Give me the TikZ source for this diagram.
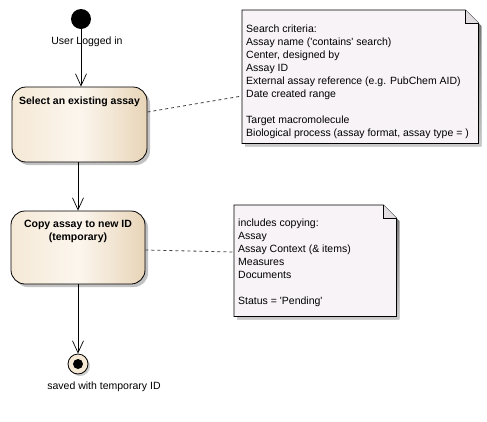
\documentclass[tikz,border=0pt]{standalone}
\usepackage{fontspec}
\setmainfont{Liberation Sans}
\usetikzlibrary{arrows.meta,shadows}
\definecolor{actL}{HTML}{F5E9D6}
\definecolor{actM}{HTML}{FCF6EE}
\definecolor{actR}{HTML}{E8D5B8}
\definecolor{notefill}{HTML}{F8F3F7}
\definecolor{foldfill}{HTML}{E2DDE0}
\definecolor{shade}{HTML}{A8A8A8}
\newcommand{\sq}{\textquotesingle}
\begin{document}
\begin{tikzpicture}[x=1pt,y=-1pt,
  txt/.style={font=\fontsize{10.5}{13}\selectfont, inner sep=0pt},
  activity/.style={draw, line width=0.8pt, rounded corners=14pt,
    left color=actL, right color=actR, middle color=actM,
    drop shadow={shadow xshift=3pt, shadow yshift=-3pt, fill=shade, opacity=0.7},
    minimum width=135pt, inner sep=0pt},
  notebox/.style={inner sep=0pt, anchor=north west},
  flow/.style={line width=0.7pt, -{Straight Barb[length=12pt,width=11pt,line width=0.7pt]}},
  anchorline/.style={line width=0.8pt, dash pattern=on 3pt off 3pt, draw=black!75},
  noteline/.style={txt, align=left, anchor=north west}
]
\useasboundingbox (0,0) rectangle (487,421);

% initial node
\node[circle, fill=black, minimum size=20pt, inner sep=0pt] (start) at (81,19) {};
\node[txt] (startlbl) at (87,42) {User Logged in};

% activities
\node[activity, minimum width=135pt, minimum height=75pt] (sel) at (79.5,124.5) {};
\node[txt, font=\fontsize{10.5}{13}\selectfont\bfseries, anchor=north] (selt) at (79.5,97) {Select an existing assay};

\node[activity, minimum width=134pt, minimum height=73pt] (copy) at (78,247.5) {};
\node[txt, font=\fontsize{10.5}{13}\selectfont\bfseries, anchor=north, align=center] (copyt) at (78,219.5) {Copy assay to new ID\\(temporary)};

% final node
\node[circle, draw, line width=0.8pt, fill=actL, minimum size=20pt, inner sep=0pt,
  drop shadow={shadow xshift=2pt, shadow yshift=-2pt, fill=shade, opacity=0.6}] (final) at (78,364) {};
\node[circle, fill=black, minimum size=10pt, inner sep=0pt] (finaldot) at (final.center) {};
\node[txt] (finallbl) at (104,387) {saved with temporary ID};

% transitions
\draw[flow] (start.south) -- (start.south |- sel.north);
\draw[flow] (sel.south -| copy.north) -- (copy.north);
\draw[flow] (copy.south) -- (final.north);

% notes
\node[notebox, minimum width=236pt, minimum height=133pt] (n1) at (242,10) {};
\node[notebox, minimum width=162pt, minimum height=111pt] (n2) at (234,205) {};

\foreach \n in {n1,n2}{
  \fill[shade, opacity=0.7] ([xshift=3pt,yshift=-3pt]\n.north west) -- ([xshift=-10pt,yshift=-3pt]\n.north east)
    -- ([xshift=3pt,yshift=-16pt]\n.north east) -- ([xshift=3pt,yshift=-3pt]\n.south east)
    -- ([xshift=3pt,yshift=-3pt]\n.south west) -- cycle;
  \draw[line width=0.7pt, fill=notefill] (\n.north west) -- ([xshift=-13pt]\n.north east)
    -- ([yshift=-13pt]\n.north east) -- (\n.south east) -- (\n.south west) -- cycle;
  \draw[line width=0.6pt, fill=foldfill] ([xshift=-13pt]\n.north east) -- ([xshift=-13pt,yshift=-13pt]\n.north east)
    -- ([yshift=-13pt]\n.north east);
}

\node[noteline] (n1t) at (246,25) {Search criteria:\\
Assay name (\sq contains\sq\ search)\\
Center, designed by\\
Assay ID\\
External assay reference (e.g. PubChem AID)\\
Date created range\\[13pt]
Target macromolecule\\
Biological process (assay format, assay type = )};

\node[noteline] (n2t) at (238,219) {includes copying:\\
Assay\\
Assay Context (\& items)\\
Measures\\
Documents\\[13pt]
Status = \sq Pending\sq};

% note anchors
\coordinate (a1) at (n1.west |- 0,96);
\coordinate (a2) at (n2.west |- 0,252);
\draw[anchorline] (sel.east |- 0,112) -- (a1);
\draw[anchorline] (copy.east |- 0,250) -- (a2);
\end{tikzpicture}
\end{document}
